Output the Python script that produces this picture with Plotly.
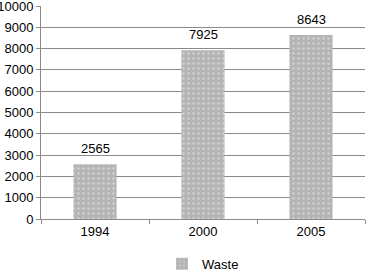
import plotly.graph_objects as go

categories = ["1994", "2000", "2005"]
values = [2565, 7925, 8643]
series_name = "Waste"
y_ticks = list(range(0, 10001, 1000))
y_tick_labels = [str(t) for t in y_ticks]

fig = go.Figure()
fig.add_trace(go.Bar(
    x=categories, y=values, name=series_name,
    marker=dict(color="#b4b4b4", line=dict(width=0),
                pattern=dict(shape=".", fgcolor="#ececec", bgcolor="#b4b4b4", size=5, solidity=0.2)),
))
# category positions by index (numeric-looking category names would be read as indices)
for i, v in enumerate(values):
    fig.add_annotation(x=i, y=v, text=str(v), showarrow=False, yanchor="bottom",
                       yshift=6, font=dict(size=13, color="#000"))

fig.update_layout(
    width=368, height=272,
    margin=dict(l=41, r=3, t=6, b=53, autoexpand=False),
    paper_bgcolor="white", plot_bgcolor="white",
    font=dict(family="Liberation Sans, Arial, sans-serif", size=12, color="#000"),
    bargap=0.6,
    showlegend=True,
    legend=dict(orientation="h", x=0.5, xanchor="center", y=-0.21, yanchor="middle",
                font=dict(size=13)),
    xaxis=dict(type="category", categoryorder="array", categoryarray=categories,
               range=[-0.5, len(categories) - 0.5], automargin=False,
               showline=True, linecolor="#8a8a8a", linewidth=1, ticks="outside",
               tickson="boundaries", ticklen=4, tickcolor="#8a8a8a",
               tickfont=dict(size=13), showgrid=False),
    yaxis=dict(range=[0, 10000], tickvals=y_ticks, ticktext=y_tick_labels, automargin=False,
               ticklabeloverflow="allow",
               showline=True, linecolor="#8a8a8a",
               linewidth=1, ticks="outside", ticklen=4, tickcolor="#8a8a8a",
               showgrid=True, gridcolor="#8a8a8a", gridwidth=1, tickfont=dict(size=13),
               zeroline=False),
)
fig.write_html("out.html", config={"displayModeBar": False},
               post_script="document.body.style.margin='0';document.body.style.padding='0';")
